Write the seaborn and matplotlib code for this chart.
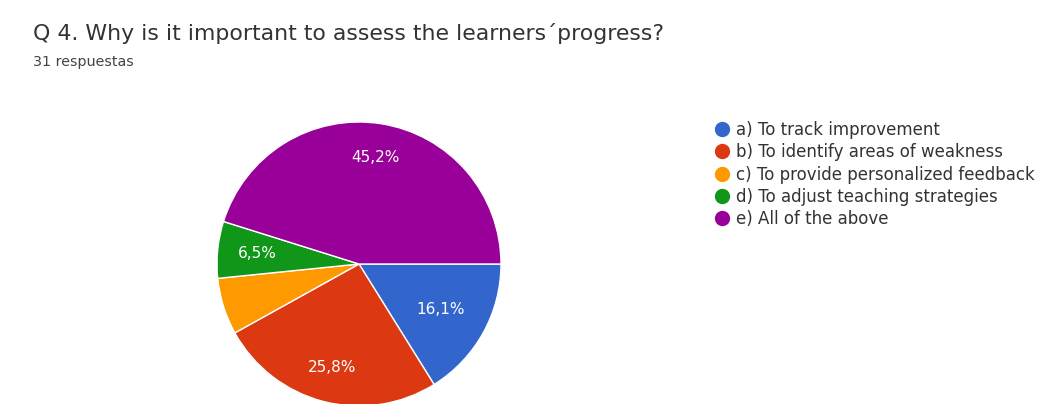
import matplotlib
matplotlib.use("Agg")
import matplotlib.pyplot as plt
from matplotlib.lines import Line2D
import numpy as np
import seaborn as sns

# Survey answers (31 responses)
labels = [
    "a) To track improvement",
    "b) To identify areas of weakness",
    "c) To provide personalized feedback",
    "d) To adjust teaching strategies",
    "e) All of the above",
]
counts = [5, 8, 2, 2, 14]
colors = ["#3366CC", "#DC3912", "#FF9900", "#109618", "#990099"]
shown_pct = [True, True, False, True, True]
title = "Q 4. Why is it important to assess the learners\u00b4progress?"
subtitle = "31 respuestas"

sns.set_theme(style="white")
plt.rcParams["font.family"] = ["DejaVu Sans"]
palette = sns.color_palette(colors)

W, H = 1047, 404
fig = plt.figure(figsize=(W / 100, H / 100), dpi=100)
fig.patch.set_facecolor("white")

# Pie axes placed in pixel terms: centre (359, 264), radius 142
cx, cy, r = 359, 264, 142
ax = fig.add_axes([(cx - r) / W, (H - cy - r) / H, 2 * r / W, 2 * r / H])

total = sum(counts)
wedges, _ = ax.pie(
    counts,
    colors=palette,
    startangle=0,
    counterclock=False,
    radius=1.0,
    wedgeprops=dict(edgecolor="white", linewidth=1.0),
)
ax.set_xlim(-1, 1)
ax.set_ylim(-1, 1)
ax.set_aspect("equal")
ax.axis("off")

# radial position of each percentage label, as a fraction of the radius
label_radius = [0.66, 0.75, 0.72, 0.72, 0.76]
for w, c, show, d in zip(wedges, counts, shown_pct, label_radius):
    if not show:
        continue
    ang = np.deg2rad((w.theta1 + w.theta2) / 2)
    pct = f"{100 * c / total:.1f}".replace(".", ",") + "%"
    ax.text(d * np.cos(ang), d * np.sin(ang), pct, ha="center", va="center",
            color="white", fontsize=11)

fig.text(33 / W, 1 - 33 / H, title, ha="left", va="center",
         fontsize=15.8, color="#333333")
fig.text(33 / W, 1 - 62 / H, subtitle, ha="left", va="center",
         fontsize=10.3, color="#444444")

handles = [Line2D([0], [0], marker="o", linestyle="", markersize=10,
                  markerfacecolor=col, markeredgecolor=col) for col in palette]
fig.legend(handles, labels, loc="upper left",
           bbox_to_anchor=(714 / W, 1 - 121 / H), frameon=False,
           fontsize=12, labelcolor="#333333", handletextpad=0.4,
           labelspacing=0.26, handlelength=0.9, borderaxespad=0, borderpad=0)

fig.savefig("out.png", dpi=100, facecolor="white")
